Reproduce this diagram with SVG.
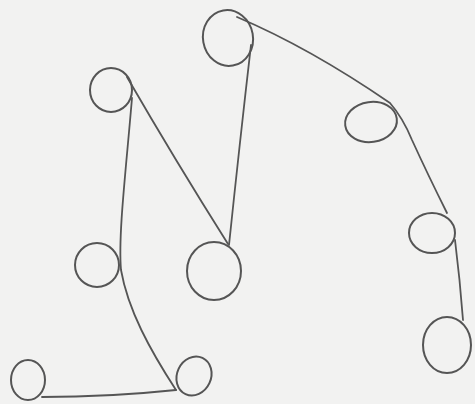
<svg xmlns="http://www.w3.org/2000/svg" width="475" height="404" viewBox="0 0 475 404">
<style>
.n{fill:none;stroke:#555;stroke-width:2;}
.e{fill:none;stroke:#555;stroke-width:1.8;stroke-linecap:round;}
</style>
<rect x="0" y="0" width="475" height="404" fill="#f2f2f1"/>
<g id="connectors">
<path class="e" d="M237,17 Q310,48 390,103 Q403,118 412,140 Q428,175 447,213"/>
<path class="e" d="M455,240 Q460,280 463,320"/>
<path class="e" d="M251,45 Q240,140 229,245"/>
<path class="e" d="M127,77 Q175,160 228,244"/>
<path class="e" d="M132,98 C126,170 118,235 121,270 C128,310 150,350 176,390"/>
<path class="e" d="M42,397 Q110,397 176,390"/>
</g>
<g id="n1"><ellipse class="n" cx="228" cy="38" rx="25" ry="28" transform="rotate(-10 228 38)"/></g>
<g id="n2"><ellipse class="n" cx="111" cy="90" rx="21" ry="22"/></g>
<g id="n3"><ellipse class="n" cx="371" cy="122" rx="26" ry="20" transform="rotate(-8 371 122)"/></g>
<g id="n4"><ellipse class="n" cx="432" cy="233" rx="23" ry="20"/></g>
<g id="n5"><ellipse class="n" cx="447" cy="345" rx="24" ry="28"/></g>
<g id="n6"><ellipse class="n" cx="214" cy="271" rx="27" ry="29"/></g>
<g id="n7"><ellipse class="n" cx="97" cy="265" rx="22" ry="22"/></g>
<g id="n8"><ellipse class="n" cx="28" cy="380" rx="17" ry="20"/></g>
<g id="n9"><ellipse class="n" cx="194" cy="376" rx="17" ry="20" transform="rotate(25 194 376)"/></g>
</svg>
